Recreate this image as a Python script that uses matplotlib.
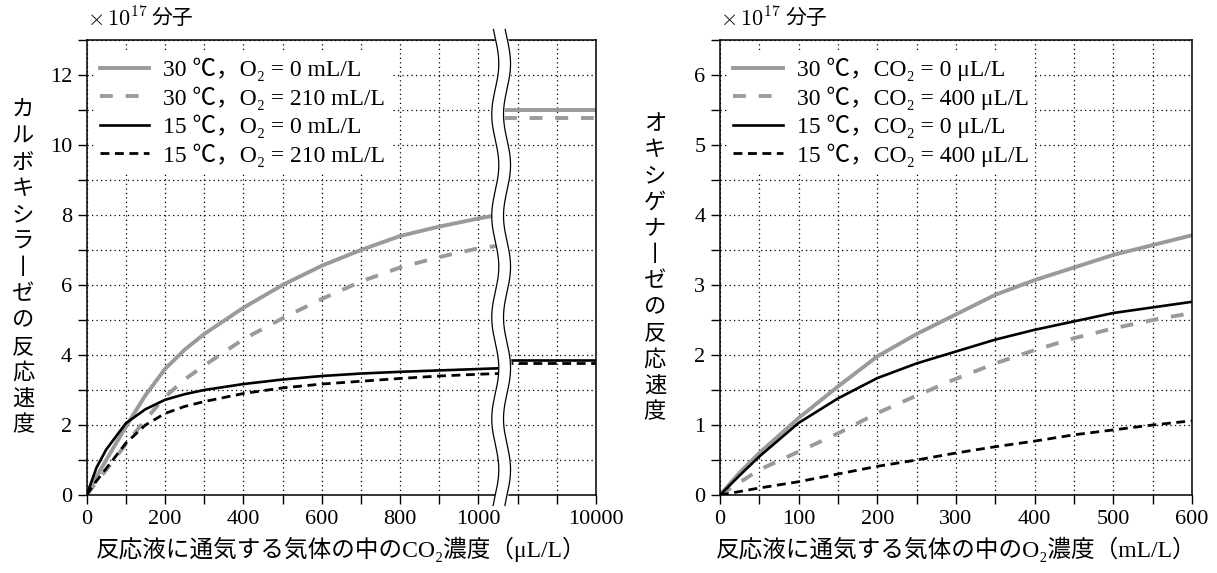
import numpy as np
import matplotlib
matplotlib.use("Agg")
import matplotlib.pyplot as plt

plt.rcParams['font.family'] = ['Liberation Serif', 'Noto Sans CJK JP', 'DejaVu Sans']
plt.rcParams['mathtext.fontset'] = 'cm'

# left panel: CO2 (uL/L) vs carboxylase rate (x10^17)
co2 = [0, 25, 50, 100, 150, 200, 250, 300, 400, 500, 600, 700, 800, 900, 1000, 1050]
carb_30_0 = [0, 0.52, 1.0, 1.95, 2.85, 3.6, 4.15, 4.6, 5.35, 6.0, 6.55, 7.0, 7.4, 7.67, 7.9, 8.0]
carb_30_210 = [0, 0.37, 0.72, 1.45, 2.15, 2.8, 3.3, 3.7, 4.45, 5.05, 5.6, 6.1, 6.5, 6.8, 7.05, 7.12]
carb_15_0 = [0, 0.78, 1.3, 2.05, 2.45, 2.72, 2.88, 3.0, 3.17, 3.3, 3.4, 3.47, 3.52, 3.56, 3.6, 3.62]
carb_15_210 = [0, 0.4, 0.76, 1.48, 2.0, 2.33, 2.53, 2.67, 2.9, 3.06, 3.17, 3.25, 3.33, 3.4, 3.45, 3.47]
# levels shown after the axis break (at 10000 uL/L)
carb_high = [11.0, 10.78, 3.85, 3.78]
left_ticklabels = ['0', '', '200', '', '400', '', '600', '', '800', '', '1000', '', '', '10000']
left_labels = ['30 ℃，O₂ = 0 mL/L', '30 ℃，O₂ = 210 mL/L',
               '15 ℃，O₂ = 0 mL/L', '15 ℃，O₂ = 210 mL/L']

# right panel: O2 (mL/L) vs oxygenase rate (x10^17)
o2 = [0, 25, 50, 100, 150, 200, 250, 300, 350, 400, 450, 500, 550, 600]
oxy_30_0 = [0, 0.32, 0.6, 1.1, 1.55, 1.98, 2.3, 2.58, 2.86, 3.07, 3.25, 3.43, 3.57, 3.71]
oxy_30_400 = [0, 0.18, 0.36, 0.62, 0.88, 1.17, 1.42, 1.66, 1.88, 2.07, 2.24, 2.38, 2.5, 2.6]
oxy_15_0 = [0, 0.28, 0.55, 1.03, 1.38, 1.67, 1.88, 2.05, 2.22, 2.36, 2.48, 2.6, 2.68, 2.76]
oxy_15_400 = [0, 0.05, 0.1, 0.19, 0.3, 0.41, 0.5, 0.6, 0.69, 0.77, 0.86, 0.93, 1.0, 1.06]
right_labels = ['30 ℃，CO₂ = 0 μL/L', '30 ℃，CO₂ = 400 μL/L',
                '15 ℃，CO₂ = 0 μL/L', '15 ℃，CO₂ = 400 μL/L']

gray = '#9a9a9a'
styles = [dict(color=gray, lw=2.8, ls='-'),
          dict(color=gray, lw=2.8, ls=(0, (3.3, 3.3))),
          dict(color='k', lw=1.9, ls='-'),
          dict(color='k', lw=2.0, ls=(0, (3.2, 2.0)))]

fig = plt.figure(figsize=(12.17, 5.73), dpi=100)
ax1 = fig.add_axes([0.0712, 0.1361, 0.4185, 0.7941])
ax2 = fig.add_axes([0.5916, 0.1361, 0.3878, 0.7941])


def style_axes(ax):
    for s in ax.spines.values():
        s.set_linewidth(1.1)
    ax.tick_params(which='both', direction='out', length=6.5, width=1.0,
                   labelsize=16, pad=4)
    ax.grid(True, color='k', lw=0.9, ls=(0, (1.0, 2.6)))
    ax.set_axisbelow(True)


def vertical_label(ax, text, x):
    s = '\n'.join(text.replace('ー', '丨'))
    ax.text(x, 0.5, s, transform=ax.transAxes, ha='center', va='center',
            fontsize=16, linespacing=1.18, family=['Noto Sans CJK JP'])


def unit_title(ax):
    t = ax.text(0.0, 1.045, r'$\times\,10^{17}$', transform=ax.transAxes,
                ha='left', va='center', fontsize=16)
    ax.annotate('分子', xy=(1, 0.5), xycoords=t, xytext=(3, 0),
                textcoords='offset points', ha='left', va='center', fontsize=15)


def make_legend(ax):
    ax.legend(loc='upper left', bbox_to_anchor=(0.0, 0.99), fontsize=17,
              frameon=True, framealpha=1, edgecolor='none', facecolor='white',
              handlelength=2.1, handletextpad=0.6, labelspacing=0.22,
              borderpad=0.25, borderaxespad=0.3)


# ---- left ----
series = [carb_30_0, carb_30_210, carb_15_0, carb_15_210]
for y, st, lab in zip(series, styles, left_labels):
    ax1.plot(co2, y, label=lab, **st)
brk_end = 1065
for lev, st in zip(carb_high, styles):
    ax1.plot([brk_end, 1300], [lev, lev], **st)

ax1.set_xlim(0, 1300)
ax1.set_ylim(0, 13)
ax1.set_xticks(np.arange(0, 1301, 100), left_ticklabels)
ax1.set_yticks(np.arange(0, 14, 1), [str(v) if v % 2 == 0 else '' for v in range(14)])
style_axes(ax1)

# axis break (wavy double line)
yy = np.linspace(-0.3, 13.3, 300)
wave = 9 * np.sin(2 * np.pi * yy / 2.9)
ax1.fill_betweenx(yy, 1043 + wave, 1073 + wave, color='white', zorder=5, clip_on=False)
ax1.plot(1043 + wave, yy, color='k', lw=0.9, zorder=6, clip_on=False)
ax1.plot(1073 + wave, yy, color='k', lw=0.9, zorder=6, clip_on=False)

make_legend(ax1)
ax1.set_xlabel('反応液に通気する気体の中のCO₂濃度（μL/L）', fontsize=17, labelpad=6)
vertical_label(ax1, 'カルボキシラーゼの反応速度', -0.125)
unit_title(ax1)

# ---- right ----
series = [oxy_30_0, oxy_30_400, oxy_15_0, oxy_15_400]
for y, st, lab in zip(series, styles, right_labels):
    ax2.plot(o2, y, label=lab, **st)
ax2.set_xlim(0, 600)
ax2.set_ylim(0, 6.5)
ax2.set_xticks(np.arange(0, 601, 50),
               [str(v) if v % 100 == 0 else '' for v in range(0, 601, 50)])
ax2.set_yticks(np.arange(0, 6.6, 0.5),
               [str(int(v)) if v % 1 == 0 else '' for v in np.arange(0, 6.6, 0.5)])
style_axes(ax2)
make_legend(ax2)
ax2.set_xlabel('反応液に通気する気体の中のO₂濃度（mL/L）', fontsize=17, labelpad=6)
vertical_label(ax2, 'オキシゲナーゼの反応速度', -0.138)
unit_title(ax2)

fig.savefig('out.png', dpi=100)
